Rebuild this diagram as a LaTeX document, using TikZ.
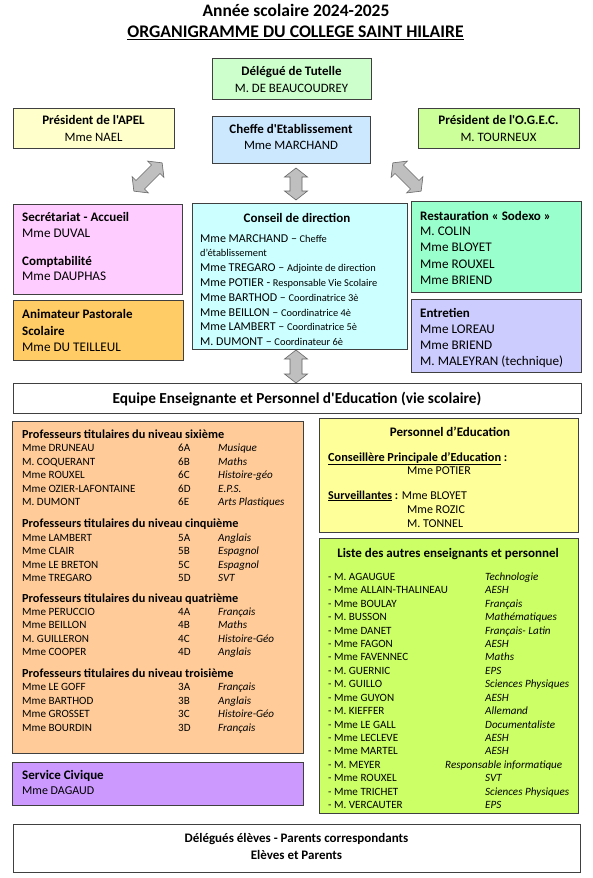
\documentclass[tikz,border=0pt]{standalone}
\usepackage{fontspec}
\setmainfont{Carlito}[Ligatures=TeXOff]
\usetikzlibrary{shadows}
\definecolor{cDeleg}{HTML}{CCFFCC}
\definecolor{cApel}{HTML}{FFFFCC}
\definecolor{cChef}{HTML}{CCE8FF}
\definecolor{cOgec}{HTML}{CCFF99}
\definecolor{cSecr}{HTML}{FFCCFF}
\definecolor{cAnim}{HTML}{FFCC66}
\definecolor{cCons}{HTML}{CCFFFF}
\definecolor{cRest}{HTML}{99FFCC}
\definecolor{cEntr}{HTML}{CCCCFF}
\definecolor{cProf}{HTML}{FFCC99}
\definecolor{cServ}{HTML}{CC99FF}
\definecolor{cPers}{HTML}{FFFF99}
\definecolor{cList}{HTML}{CCFF66}
\newcommand{\myfs}[1]{\fontsize{#1}{#1}\selectfont}
\newcommand{\blockarrow}[4]{%
  \begin{scope}[shift={(#1,#2)},rotate=#3]
    \draw[barrow] (-#4,0) -- ({-#4+9},11.5) -- ({-#4+9},6) -- ({#4-9},6) -- ({#4-9},11.5) -- (#4,0)
      -- ({#4-9},-11.5) -- ({#4-9},-6) -- ({-#4+9},-6) -- ({-#4+9},-11.5) -- cycle;
  \end{scope}}
\begin{document}
\begin{tikzpicture}[x=1pt,y=-1pt,
  box/.style={draw=black!75,line width=0.8pt,anchor=north west,inner sep=0pt,
    drop shadow={shadow xshift=1pt,shadow yshift=-1pt,fill=black!50,opacity=1}},
  ttl/.style={anchor=base west,inner sep=0pt},
  ttc/.style={anchor=base,inner sep=0pt},
  barrow/.style={fill=black!25,draw=black!60,line width=0.6pt},
  hd/.style={font=\myfs{13}\bfseries},
  bd/.style={font=\myfs{13.2}},
  hb/.style={font=\myfs{12.8}},
  sm/.style={font=\myfs{11.1}},
  smi/.style={font=\myfs{11.1}\itshape},
  smb/.style={font=\myfs{12.3}\bfseries},
  md/.style={font=\myfs{12}}]
\useasboundingbox (0,0) rectangle (593,878);
\fill[white] (0,0) rectangle (593,878);

% title
\node[ttc,font=\myfs{17.5}\bfseries] (t1) at (296,16.6) {Année scolaire 2024-2025};
\node[ttc,font=\myfs{17.7}\bfseries] (t2) at (295.5,37.6) {\underline{ORGANIGRAMME DU COLLEGE SAINT HILAIRE}};

% boxes
\node[box,fill=cDeleg,minimum width=159pt,minimum height=41pt] (deleg) at (212,58) {};
\node[box,fill=cApel,minimum width=161pt,minimum height=40pt] (apel) at (13,108) {};
\node[box,fill=cChef,minimum width=158pt,minimum height=47pt] (chef) at (212,116) {};
\node[box,fill=cOgec,minimum width=161pt,minimum height=40pt] (ogec) at (418,108) {};
\node[box,fill=cSecr,minimum width=169pt,minimum height=90pt] (secr) at (13,204) {};
\node[box,fill=cAnim,minimum width=170pt,minimum height=60pt] (anim) at (13,300) {};
\node[box,fill=cCons,minimum width=215pt,minimum height=146pt] (cons) at (192,203) {};
\node[box,fill=cRest,minimum width=170pt,minimum height=91pt] (rest) at (411,201) {};
\node[box,fill=cEntr,minimum width=170pt,minimum height=73pt] (entr) at (411,299) {};
\node[box,fill=white,minimum width=568pt,minimum height=30pt] (equipe) at (13,383) {};
\node[box,fill=cProf,minimum width=291pt,minimum height=332pt] (prof) at (12,421) {};
\node[box,fill=cServ,minimum width=291pt,minimum height=43pt] (serv) at (12,762) {};
\node[box,fill=cPers,minimum width=259pt,minimum height=114pt] (pers) at (319,418) {};
\node[box,fill=cList,minimum width=259pt,minimum height=275pt] (liste) at (319,538) {};
\node[box,fill=white,minimum width=567pt,minimum height=48pt] (bottom) at (13,824) {};

% block arrows
\blockarrow{148}{177}{45}{20}
\blockarrow{296}{184}{90}{16}
\blockarrow{407}{177}{-45}{20}
\blockarrow{296}{366.5}{90}{16.5}

% top boxes text
\node[ttc,hd] (deleg-h) at (291.5,75) {Délégué de Tutelle};
\node[ttc,hb] (deleg-b) at (291.5,92) {M. DE BEAUCOUDREY};
\node[ttc,hd] (apel-h) at (93.5,124) {Président de l'APEL};
\node[ttc,hb] (apel-b) at (93.5,141) {Mme NAEL};
\node[ttc,hd] (chef-h) at (291,133) {Cheffe d'Etablissement};
\node[ttc,hb] (chef-b) at (291,149) {Mme MARCHAND};
\node[ttc,hd] (ogec-h) at (498.5,124) {Président de l'O.G.E.C.};
\node[ttc,hb] (ogec-b) at (498.5,141) {M. TOURNEUX};

% secretariat / animateur
\node[ttl,hd] (secr-h) at (22,221) {Secrétariat - Accueil};
\node[ttl,bd] (secr-b) at (22,237.5) {Mme DUVAL};
\node[ttl,hd] (compta-h) at (22,265) {Comptabilité};
\node[ttl,bd] (compta-b) at (22,280.5) {Mme DAUPHAS};
\node[ttl,hd] (anim-h1) at (22,318.5) {Animateur Pastorale};
\node[ttl,hd] (anim-h2) at (22,335) {Scolaire};
\node[ttl,bd] (anim-b) at (22,351.5) {Mme DU TEILLEUL};

% conseil
\node[ttc,hd] (cons-h) at (297,222) {Conseil de direction};
\node[ttl,md] (c1) at (200,242) {Mme MARCHAND – {\myfs{10.4}Cheffe}};
\node[ttl,font=\myfs{10.4}] (c2) at (200,256) {d’établissement};
\node[ttl,md] (c3) at (200,271) {Mme TREGARO – {\myfs{10.4}Adjointe de direction}};
\node[ttl,md] (c4) at (200,286) {Mme POTIER - {\myfs{10.4}Responsable Vie Scolaire}};
\node[ttl,md] (c5) at (200,301) {Mme BARTHOD – {\myfs{10.4}Coordinatrice 3è}};
\node[ttl,md] (c6) at (200,316) {Mme BEILLON – {\myfs{10.4}Coordinatrice 4è}};
\node[ttl,md] (c7) at (200,330) {Mme LAMBERT – {\myfs{10.4}Coordinatrice 5è}};
\node[ttl,md] (c8) at (200,345) {M. DUMONT – {\myfs{10.4}Coordinateur 6è}};

% restauration / entretien
\node[ttl,hd] (rest-h) at (420,220.5) {Restauration « Sodexo »};
\node[ttl,bd] (rest-1) at (420,235.5) {M. COLIN};
\node[ttl,bd] (rest-2) at (420,251.5) {Mme BLOYET};
\node[ttl,bd] (rest-3) at (420,268.5) {Mme ROUXEL};
\node[ttl,bd] (rest-4) at (420,284.5) {Mme BRIEND};
\node[ttl,hd] (entr-h) at (420,317.5) {Entretien};
\node[ttl,bd] (entr-1) at (420,333.5) {Mme LOREAU};
\node[ttl,bd] (entr-2) at (420,349.5) {Mme BRIEND};
\node[ttl,bd] (entr-3) at (420,365.5) {M. MALEYRAN (technique)};

% equipe
\node[ttc,font=\myfs{15.3}\bfseries] (equipe-t) at (297,403) {Equipe Enseignante et Personnel d'Education (vie scolaire)};

% professeurs
\node[ttl,smb] (six-h) at (22,438) {Professeurs titulaires du niveau sixième};
\foreach \n/\c/\s [count=\i from 0] in {Mme DRUNEAU/6A/Musique, M. COQUERANT/6B/Maths, Mme ROUXEL/6C/Histoire-géo, Mme OZIER-LAFONTAINE/6D/E.P.S., M. DUMONT/6E/Arts Plastiques}{
  \node[ttl,sm] (sixn\i) at (22,{451.5+13.5*\i}) {\n};
  \node[ttl,sm] (sixc\i) at (178,{451.5+13.5*\i}) {\c};
  \node[ttl,smi] (sixs\i) at (218,{451.5+13.5*\i}) {\s};
}
\node[ttl,smb] (cinq-h) at (22,527) {Professeurs titulaires du niveau cinquième};
\foreach \n/\c/\s [count=\i from 0] in {Mme LAMBERT/5A/Anglais, Mme CLAIR/5B/Espagnol, Mme LE BRETON/5C/Espagnol, Mme TREGARO/5D/SVT}{
  \node[ttl,sm] (cinqn\i) at (22,{541.5+13.4*\i}) {\n};
  \node[ttl,sm] (cinqc\i) at (178,{541.5+13.4*\i}) {\c};
  \node[ttl,smi] (cinqs\i) at (218,{541.5+13.4*\i}) {\s};
}
\node[ttl,smb] (quat-h) at (22,602) {Professeurs titulaires du niveau quatrième};
\foreach \n/\c/\s [count=\i from 0] in {Mme PERUCCIO/4A/Français, Mme BEILLON/4B/Maths, M. GUILLERON/4C/Histoire-Géo, Mme COOPER/4D/Anglais}{
  \node[ttl,sm] (quatn\i) at (22,{615.5+13.4*\i}) {\n};
  \node[ttl,sm] (quatc\i) at (178,{615.5+13.4*\i}) {\c};
  \node[ttl,smi] (quats\i) at (218,{615.5+13.4*\i}) {\s};
}
\node[ttl,smb] (trois-h) at (22,677) {Professeurs titulaires du niveau troisième};
\foreach \n/\c/\s [count=\i from 0] in {Mme LE GOFF/3A/Français, Mme BARTHOD/3B/Anglais, Mme GROSSET/3C/Histoire-Géo, Mme BOURDIN/3D/Français}{
  \node[ttl,sm] (troisn\i) at (22,{690.5+13.7*\i}) {\n};
  \node[ttl,sm] (troisc\i) at (178,{690.5+13.7*\i}) {\c};
  \node[ttl,smi] (troiss\i) at (218,{690.5+13.7*\i}) {\s};
}

% service civique
\node[ttl,hd] (serv-h) at (22,779) {Service Civique};
\node[ttl,md] (serv-b) at (22,794) {Mme DAGAUD};

% personnel d'education
\node[ttc,hd] (pers-h) at (450,436.5) {Personnel d’Education};
\node[ttl,smb] (pers-c) at (328,461) {\underline{Conseillère Principale d’Education} :};
\node[ttc,md] (pers-p) at (439,474) {Mme POTIER};
\node[ttl,md] (pers-s) at (328,499) {{\bfseries\underline{Surveillantes} :} Mme BLOYET};
\node[ttl,md] (pers-r) at (407,513) {Mme ROZIC};
\node[ttl,md] (pers-t) at (407,527) {M. TONNEL};

% liste
\node[ttc,hd] (liste-h) at (448,557.5) {Liste des autres enseignants et personnel};
\foreach \n/\s/\x [count=\i from 0] in {M. AGAUGUE/Technologie/485, Mme ALLAIN-THALINEAU/AESH/485, Mme BOULAY/Français/485, M. BUSSON/Mathématiques/485, Mme DANET/Français- Latin/485, Mme FAGON/AESH/485, Mme FAVENNEC/Maths/485, M. GUERNIC/EPS/485, M. GUILLO/Sciences Physiques/485, Mme GUYON/AESH/485, M. KIEFFER/Allemand/485, Mme LE GALL/Documentaliste/485, Mme LECLEVE/AESH/485, Mme MARTEL/AESH/485, M. MEYER/Responsable informatique/445, Mme ROUXEL/SVT/485, Mme TRICHET/Sciences Physiques/485, M. VERCAUTER/EPS/485}{
  \node[ttl,sm] (ln\i) at (328,{580.5+13.41*\i}) {- \n};
  \node[ttl,smi] (ls\i) at (\x,{580.5+13.41*\i}) {\s};
}

% bottom
\node[ttc,hd] (bot-1) at (296.5,842) {Délégués élèves - Parents correspondants};
\node[ttc,hd] (bot-2) at (296.5,859) {Elèves et Parents};
\end{tikzpicture}
\end{document}
